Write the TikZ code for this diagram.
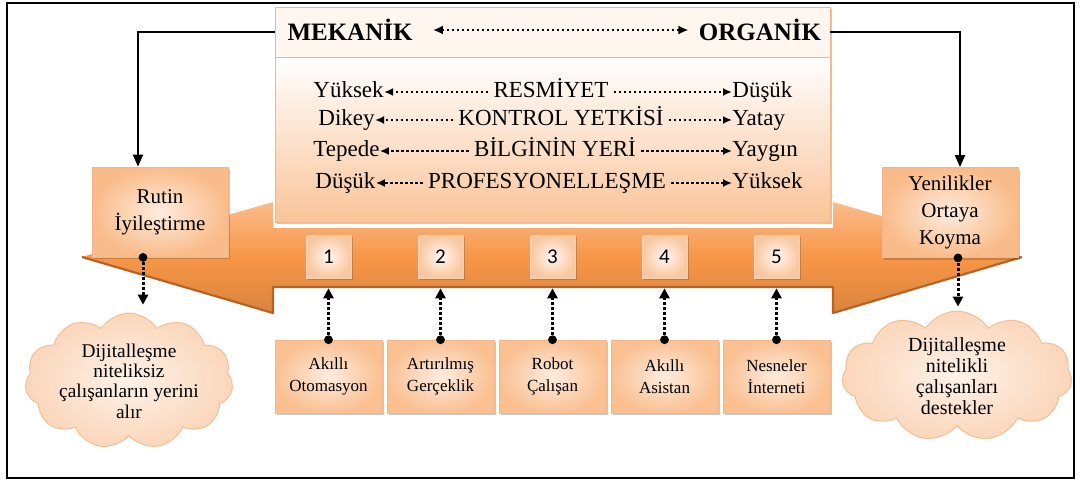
\documentclass[tikz,border=0pt]{standalone}
\usepackage{fontspec}
\setmainfont{Liberation Serif}
\newfontfamily\numfont{Carlito}
\usetikzlibrary{arrows.meta,shapes.symbols,shadows}

\definecolor{bandor}{RGB}{247,150,70}
\definecolor{bandlt}{RGB}{250,188,140}
\definecolor{banddk}{RGB}{185,98,35}
\definecolor{peach}{RGB}{250,200,160}
\definecolor{peachlt}{RGB}{254,236,222}
\definecolor{boxedge}{RGB}{243,181,137}
\definecolor{cloudin}{RGB}{254,242,232}
\definecolor{cloudout}{RGB}{251,214,186}
\definecolor{cloudln}{RGB}{240,192,152}

\tikzset{
  softshadow/.style={drop shadow={shadow xshift=1.2pt, shadow yshift=-1.2pt, opacity=0.3, fill=black!70}},
  sidebox/.style={draw=boxedge, line width=0.4pt, inner color=peachlt, outer color=peach!75!bandor,
    softshadow, minimum width=68pt, minimum height=45pt, align=center,
    font=\fontsize{10.5}{13.5}\selectfont},
  numbox/.style={draw=boxedge!60, line width=0.3pt, inner color=white!85!peach, outer color=peach,
    softshadow, minimum width=22.5pt, minimum height=21.5pt, font=\numfont\fontsize{10.5}{12}\selectfont},
  techbox/.style={draw=boxedge, line width=0.3pt, inner color=peachlt, outer color=peach!85!bandor,
    softshadow, minimum width=53.5pt, minimum height=36.5pt, align=center,
    font=\fontsize{8.5}{11}\selectfont},
  cloudbox/.style={cloud, cloud puffs=11, cloud puff arc=115, aspect=1.5, draw=cloudln,
    line width=0.5pt, inner color=cloudin, outer color=cloudout, inner sep=0pt, align=center,
    font=\fontsize{10}{10.5}\selectfont},
  rowtxt/.style={inner sep=0pt, text height=8pt, text depth=2.5pt, font=\fontsize{11.5}{13}\selectfont},
  hdrtxt/.style={inner sep=0pt, font=\fontsize{12.5}{14}\selectfont\bfseries},
  dots/.style={line width=1.35pt, dash pattern=on 1.2pt off 1.3pt},
  rowarr/.style={dots, -{Latex[length=4.5pt, width=4pt]}},
  dotarr/.style={line width=1.5pt, dash pattern=on 1.5pt off 1pt, -{Triangle[length=5pt, width=5pt]}},
  conn/.style={line width=1pt, -{Triangle[length=6pt, width=5pt]}}
}

\begin{document}
\begin{tikzpicture}[x=0.5pt, y=-0.5pt]

\useasboundingbox (0,0) rectangle (1080,483);

%% ---- cornice ----
\draw[line width=1.3pt] (7,3) rectangle (1074,478);

%% ---- freccia arancione ----
\shade[top color=bandlt, bottom color=bandor!88!black, middle color=bandor]
  (82,257) -- (273,202) -- (273,228) -- (833,228) -- (833,202) -- (1022,257)
  -- (833,313) -- (833,287) -- (273,287) -- (273,313) -- cycle;
\draw[banddk, line width=1.1pt, line join=round]
  (82,257) -- (273,313) -- (273,287) -- (833,287) -- (833,313) -- (1022,257);

%% ---- riquadro centrale ----
\node[draw=boxedge, line width=0.4pt, fill=peachlt!45!white, softshadow,
      minimum width=277.5pt, minimum height=25pt] (hdr) at (552.5,32) {};
\node[draw=boxedge, line width=0.4pt, top color=white, bottom color=peach!92!bandor, softshadow,
      minimum width=277.5pt, minimum height=82.5pt] (body) at (552.5,139.5) {};

\node[hdrtxt] (mek) at (350,30) {MEKANİK};
\node[hdrtxt] (org) at (760,30) {ORGANİK};
\draw[dots, {Latex[length=5pt, width=4.5pt]}-{Latex[length=5pt, width=4.5pt]},
      shorten <=10pt, shorten >=5pt] (mek.east) -- (org.west);

%% ---- righe ----
\foreach \y/\lx/\lw/\mx/\mw/\rw [count=\i] in
  {92/313/Yüksek/551/RESMİYET/Düşük,
   120/318/Dikey/561/KONTROL YETKİSİ/Yatay,
   151/313/Tepede/555/BİLGİNİN YERİ/Yaygın,
   183/315/Düşük/547/PROFESYONELLEŞME/Yüksek}{
  \node[rowtxt, anchor=west] (l\i) at (\lx,\y) {\lw};
  \node[rowtxt, inner xsep=2.5pt] (m\i) at (\mx,\y) {\mw};
  \node[rowtxt, anchor=west] (r\i) at (732,\y) {\rw};
  \draw[rowarr] (m\i.west) -- (l\i.east);
  \draw[rowarr] (m\i.east) -- (r\i.west);
}

%% ---- riquadri laterali ----
\node[sidebox] (rut) at (160,212) {Rutin\\İyileştirme};
\node[sidebox] (yen) at (950,212.5) {Yenilikler\\Ortaya\\Koyma};
\draw[conn] (hdr.west) -| ([xshift=-11pt]rut.north);
\draw[conn] (hdr.east) -| ([xshift=5pt]yen.north);

%% ---- numeri e tecnologie ----
\foreach \num/\lbl [count=\i from 0] in
  {1/{Akıllı\\Otomasyon}, 2/{Artırılmış\\Gerçeklik}, 3/{Robot\\Çalışan},
   4/{Akıllı\\Asistan}, 5/{Nesneler\\İnterneti}}{
  \node[numbox] (n\num) at ({328.5+112*\i},256.5) {\num};
  \node[techbox] (t\num) at ({328.5+112*\i},376.5) {\lbl};
  \draw[dotarr, shorten >=5pt] (t\num.north) -- (n\num.south);
  \fill (t\num.north) circle (2.2pt);
}

%% ---- nuvole ----
\node[cloudbox, aspect=1.8, font=\fontsize{9.7}{10.2}\selectfont,
      minimum width=104pt, minimum height=66pt] (cl1) at (129,381)
  {Dijitalleşme\\niteliksiz\\çalışanların yerini\\alır};
\node[cloudbox, minimum width=115pt, minimum height=64pt] (cl2) at (957,376)
  {Dijitalleşme\\nitelikli\\çalışanları\\destekler};

\fill ([xshift=-8.5pt]rut.south) circle (2.2pt);
\draw[dotarr, shorten >=4pt] ([xshift=-8.5pt]rut.south) -- ([xshift=-8.5pt]rut.south |- cl1.north);
\fill ([xshift=4pt]yen.south) circle (2.2pt);
\draw[dotarr, shorten >=2pt] ([xshift=4pt]yen.south) -- ([xshift=4pt]yen.south |- cl2.north);

\end{tikzpicture}
\end{document}
